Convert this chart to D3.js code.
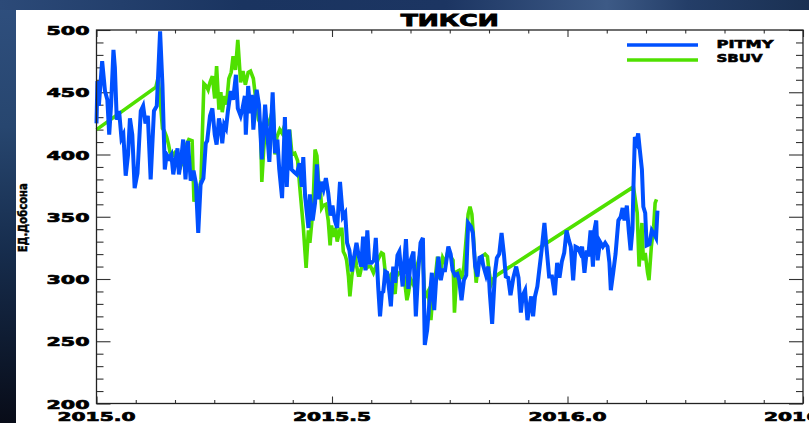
<!DOCTYPE html>
<html><head><meta charset="utf-8">
<script src="https://cdn.jsdelivr.net/npm/d3@7"></script>
<style>html,body{margin:0;padding:0;background:#000;overflow:hidden}</style>
</head><body>
<svg id="c" width="809" height="423"></svg>
<script>
const title = "ТИКСИ";
const yLabel = "ЕД.Добсона";
const seriesNames = ["PITMY", "SBUV"];
const xTicks = [2015.0, 2015.5, 2016.0, 2016.5];
const xTickLabels = ["2015.0", "2015.5", "2016.0", "2016.5"];
const yTicks = [200, 250, 300, 350, 400, 450, 500];
const yTickLabels = ["200", "250", "300", "350", "400", "450", "500"];

// PITMY series [decimal year, Dobson units]
const pitmy = [
[2015.000,425],[2015.002,459],[2015.005,439],[2015.012,475],[2015.018,451],[2015.023,444],[2015.027,416],
[2015.031,440],[2015.036,484],[2015.039,470],[2015.043,428],[2015.048,435],[2015.053,413],[2015.057,416],
[2015.062,383],[2015.067,400],[2015.071,429],[2015.076,416],[2015.081,373],[2015.087,385],[2015.094,435],
[2015.099,439],[2015.104,425],[2015.109,431],[2015.115,380],[2015.122,435],[2015.128,439],[2015.135,499],
[2015.140,456],[2015.145,388],[2015.149,400],[2015.154,397],[2015.159,400],[2015.163,384],[2015.168,396],
[2015.172,405],[2015.175,384],[2015.180,397],[2015.184,412],[2015.189,380],[2015.194,411],[2015.200,379],
[2015.206,387],[2015.211,377],[2015.216,337],[2015.221,376],[2015.227,381],[2015.232,409],[2015.235,411],
[2015.241,431],[2015.246,437],[2015.251,416],[2015.255,408],[2015.260,429],[2015.264,421],[2015.267,409],
[2015.271,424],[2015.275,421],[2015.279,435],[2015.285,451],[2015.290,444],[2015.296,464],[2015.300,437],
[2015.306,431],[2015.310,437],[2015.315,447],[2015.317,416],[2015.322,455],[2015.327,433],[2015.330,448],
[2015.333,420],[2015.340,452],[2015.345,440],[2015.351,396],[2015.358,440],[2015.367,394],[2015.374,450],
[2015.379,401],[2015.384,412],[2015.388,388],[2015.394,365],[2015.400,430],[2015.404,374],[2015.409,420],
[2015.414,388],[2015.419,386],[2015.425,384],[2015.431,393],[2015.436,374],[2015.439,398],[2015.443,366],
[2015.450,341],[2015.453,368],[2015.459,347],[2015.464,361],[2015.468,392],[2015.472,364],[2015.477,378],
[2015.482,372],[2015.487,381],[2015.492,369],[2015.497,351],[2015.501,359],[2015.506,347],[2015.511,341],
[2015.517,378],[2015.523,350],[2015.528,353],[2015.532,329],[2015.537,323],[2015.542,306],[2015.547,318],
[2015.552,329],[2015.557,318],[2015.562,310],[2015.566,334],[2015.571,307],[2015.575,339],[2015.579,313],
[2015.584,313],[2015.589,315],[2015.593,333],[2015.598,294],[2015.602,270],[2015.606,289],[2015.609,290],
[2015.613,306],[2015.617,305],[2015.622,289],[2015.625,278],[2015.630,310],[2015.634,297],[2015.639,319],
[2015.643,322],[2015.650,294],[2015.657,332],[2015.662,292],[2015.667,315],[2015.673,322],[2015.678,270],
[2015.683,306],[2015.688,329],[2015.693,333],[2015.697,247],[2015.702,259],[2015.707,282],[2015.712,305],
[2015.717,275],[2015.721,299],[2015.726,318],[2015.731,299],[2015.735,307],[2015.740,307],[2015.747,326],
[2015.752,320],[2015.756,307],[2015.761,303],[2015.766,304],[2015.770,299],[2015.775,283],[2015.780,299],
[2015.785,303],[2015.789,345],[2015.795,342],[2015.799,337],[2015.804,310],[2015.809,302],[2015.813,317],
[2015.818,318],[2015.821,311],[2015.827,303],[2015.832,310],[2015.835,289],[2015.840,264],[2015.846,305],
[2015.850,317],[2015.855,320],[2015.860,337],[2015.865,320],[2015.869,302],[2015.874,301],[2015.879,287],
[2015.885,301],[2015.891,310],[2015.896,301],[2015.901,273],[2015.905,287],[2015.910,291],[2015.915,267],
[2015.919,277],[2015.923,286],[2015.927,270],[2015.931,286],[2015.936,294],[2015.940,307],[2015.945,323],
[2015.951,345],[2015.956,323],[2015.961,302],[2015.967,302],[2015.973,287],[2015.978,313],[2015.983,301],
[2015.988,314],[2015.993,321],[2015.998,339],[2016.003,331],[2016.007,326],[2016.012,299],[2016.017,326],
[2016.022,325],[2016.027,321],[2016.031,326],[2016.036,305],[2016.041,323],[2016.044,318],[2016.049,339],
[2016.054,310],[2016.057,339],[2016.061,347],[2016.064,315],[2016.069,330],[2016.075,326],[2016.080,329],
[2016.085,326],[2016.089,313],[2016.092,291],[2016.097,305],[2016.102,320],[2016.108,347],[2016.113,350],
[2016.117,357],[2016.121,347],[2016.126,359],[2016.130,339],[2016.134,323],[2016.138,340],[2016.140,374],
[2016.143,414],[2016.147,410],[2016.150,417],[2016.154,402],[2016.158,388],[2016.161,358],[2016.165,353],
[2016.168,327],[2016.174,328],[2016.179,339],[2016.184,336],[2016.188,333],[2016.191,355]
];

// SBUV series [decimal year, Dobson units]
const sbuv = [
[2015.000,420],[2015.126,454],[2015.131,462],[2015.136,440],[2015.140,421],[2015.144,419],[2015.149,414],
[2015.153,408],[2015.156,402],[2015.160,399],[2015.165,401],[2015.169,396],[2015.173,399],[2015.177,388],
[2015.182,396],[2015.186,391],[2015.191,408],[2015.196,412],[2015.203,411],[2015.207,362],[2015.211,376],
[2015.217,366],[2015.222,380],[2015.225,420],[2015.228,457],[2015.233,455],[2015.237,452],[2015.241,458],
[2015.246,463],[2015.251,445],[2015.255,471],[2015.260,436],[2015.264,450],[2015.267,434],[2015.272,447],
[2015.276,440],[2015.281,461],[2015.286,466],[2015.290,479],[2015.295,468],[2015.300,492],[2015.306,458],
[2015.311,467],[2015.316,456],[2015.322,466],[2015.327,467],[2015.333,461],[2015.338,445],[2015.344,428],
[2015.348,425],[2015.351,378],[2015.355,404],[2015.360,427],[2015.365,425],[2015.370,430],[2015.375,438],
[2015.379,400],[2015.383,414],[2015.389,420],[2015.394,417],[2015.399,423],[2015.404,410],[2015.410,420],
[2015.415,400],[2015.421,401],[2015.427,395],[2015.432,372],[2015.436,355],[2015.439,342],[2015.445,309],
[2015.450,339],[2015.453,329],[2015.457,345],[2015.460,361],[2015.464,404],[2015.468,399],[2015.471,380],
[2015.475,373],[2015.478,357],[2015.481,359],[2015.487,360],[2015.492,347],[2015.496,327],[2015.499,343],
[2015.503,334],[2015.508,341],[2015.511,330],[2015.517,340],[2015.521,340],[2015.524,322],[2015.528,319],
[2015.531,315],[2015.535,302],[2015.538,286],[2015.542,302],[2015.545,310],[2015.549,320],[2015.552,311],
[2015.556,303],[2015.559,303],[2015.563,310],[2015.570,310],[2015.574,309],[2015.577,310],[2015.582,310],
[2015.588,305],[2015.593,310],[2015.598,316],[2015.605,321],[2015.609,320],[2015.614,302],[2015.620,300],
[2015.623,302],[2015.629,293],[2015.634,288],[2015.637,302],[2015.643,305],[2015.648,304],[2015.653,302],
[2015.659,283],[2015.662,288],[2015.667,300],[2015.672,296],[2015.676,300],[2015.681,311],[2015.687,320],
[2015.692,322],[2015.697,285],[2015.704,290],[2015.710,267],[2015.714,287],[2015.719,300],[2015.724,318],
[2015.729,300],[2015.735,317],[2015.740,313],[2015.746,322],[2015.752,318],[2015.757,315],[2015.760,273],
[2015.765,306],[2015.770,307],[2015.775,300],[2015.780,310],[2015.786,338],[2015.789,352],[2015.793,358],
[2015.797,352],[2015.800,336],[2015.806,297],[2015.811,312],[2015.818,318],[2015.825,320],[2015.830,318],
[2015.833,307],[2015.838,296],[2015.842,300],[2015.850,303],[2016.140,374],[2016.148,353],[2016.152,310],
[2016.158,345],[2016.161,315],[2016.165,321],[2016.170,305],[2016.173,299],[2016.178,326],[2016.183,342],
[2016.186,361],[2016.189,364]
];

const colors = {pitmy: "#0050ff", sbuv: "#4fe000"};
const W = 809, H = 423;
const svg = d3.select("#c");
const defs = svg.append("defs");

// background (dark space-like image imitation)
const gl = defs.append("linearGradient").attr("id","gl").attr("x1",0).attr("y1",0).attr("x2",0).attr("y2",1);
[[0,"#2f4f7e"],[0.3,"#27466f"],[0.6,"#162c4c"],[1,"#080c18"]].forEach(s=>gl.append("stop").attr("offset",s[0]).attr("stop-color",s[1]));
const gt = defs.append("linearGradient").attr("id","gt").attr("x1",0).attr("y1",0).attr("x2",1).attr("y2",0);
[[0,"#2c4a78"],[0.3,"#1a3460"],[0.55,"#1c3562"],[0.75,"#3d5a86"],[0.85,"#243e68"],[1,"#1a3052"]].forEach(s=>gt.append("stop").attr("offset",s[0]).attr("stop-color",s[1]));
svg.append("rect").attr("width",W).attr("height",H).attr("fill","url(#gl)");
svg.append("rect").attr("x",0).attr("y",0).attr("width",W).attr("height",10).attr("fill","url(#gt)");
svg.append("rect").attr("x",16).attr("y",10).attr("width",W-16).attr("height",H-10).attr("fill","#fff");

const x = d3.scaleLinear().domain([2015.0, 2016.5]).range([96.5, 803]);
const y = d3.scaleLinear().domain([200, 500]).range([403.5, 30]);
const font = "'DejaVu Sans', sans-serif";

// minor ticks
const xMinor = d3.range(0, 19).map(i => 2015 + i / 12).filter(v => Math.abs(v*2 - Math.round(v*2)) > 1e-6);
const yMinor = d3.range(200, 501, 10).filter(v => v % 50 !== 0);

function styleAxis(g){ g.select(".domain").remove(); g.selectAll("line").attr("stroke","#333").attr("stroke-width",1.1); }

svg.append("g").attr("transform",`translate(0,${y(200)})`)
  .call(d3.axisBottom(x).tickValues(xTicks).tickSize(-7).tickFormat("")).call(styleAxis);
svg.append("g").attr("transform",`translate(0,${y(200)})`)
  .call(d3.axisBottom(x).tickValues(xMinor).tickSize(-3.5).tickFormat("")).call(styleAxis);
svg.append("g").attr("transform",`translate(0,${y(500)})`)
  .call(d3.axisTop(x).tickValues(xTicks).tickSize(-7).tickFormat("")).call(styleAxis);
svg.append("g").attr("transform",`translate(0,${y(500)})`)
  .call(d3.axisTop(x).tickValues(xMinor).tickSize(-3.5).tickFormat("")).call(styleAxis);
svg.append("g").attr("transform",`translate(${x(2015)},0)`)
  .call(d3.axisLeft(y).tickValues(yTicks).tickSize(-14).tickFormat("")).call(styleAxis);
svg.append("g").attr("transform",`translate(${x(2015)},0)`)
  .call(d3.axisLeft(y).tickValues(yMinor).tickSize(-7).tickFormat("")).call(styleAxis);
svg.append("g").attr("transform",`translate(${x(2016.5)},0)`)
  .call(d3.axisRight(y).tickValues(yTicks).tickSize(-14).tickFormat("")).call(styleAxis);
svg.append("g").attr("transform",`translate(${x(2016.5)},0)`)
  .call(d3.axisRight(y).tickValues(yMinor).tickSize(-7).tickFormat("")).call(styleAxis);

// data lines
const line = d3.line().x(d => x(d[0])).y(d => y(d[1]));
svg.append("path").datum(sbuv).attr("d", line).attr("fill","none")
  .attr("stroke", colors.sbuv).attr("stroke-width", 3.6).attr("stroke-linejoin","miter");
svg.append("path").datum(pitmy).attr("d", line).attr("fill","none")
  .attr("stroke", colors.pitmy).attr("stroke-width", 4).attr("stroke-linejoin","miter");

// frame
svg.append("rect").attr("x", x(2015)).attr("y", y(500)).attr("width", x(2016.5)-x(2015)).attr("height", y(200)-y(500))
  .attr("fill","none").attr("stroke","#222").attr("stroke-width",1.3);

function heavy(sel, sw){ return sel.attr("font-family", font).attr("font-weight","bold").attr("fill","#000")
  .attr("stroke","#000").attr("stroke-width", sw).attr("lengthAdjust","spacingAndGlyphs"); }

// y tick labels
svg.append("g").selectAll("text").data(yTicks).join("text")
  .attr("x", 89.5).attr("y", d => y(d) + 5).attr("text-anchor","end")
  .attr("font-size",13).attr("textLength",43).call(heavy, 0.7)
  .text((d,i) => yTickLabels[i]);

// x tick labels
svg.append("g").selectAll("text").data(xTicks).join("text")
  .attr("x", d => x(d)).attr("y", 421.3).attr("text-anchor","middle")
  .attr("font-size",12.5).attr("textLength",78).call(heavy, 0.7)
  .text((d,i) => xTickLabels[i]);

// title
svg.append("text").attr("x", (x(2015)+x(2016.5))/2).attr("y", 25.5).attr("text-anchor","middle")
  .attr("font-size",16.5).attr("textLength",98).call(heavy, 0.9).text(title);

// y label
svg.append("text").attr("transform", `translate(27,${(y(200)+y(500))/2 + 1}) rotate(-90)`)
  .attr("text-anchor","middle").attr("font-size",13)
  .attr("textLength",69).call(heavy, 0.5).text(yLabel);

// legend
const leg = [{name: seriesNames[0], color: colors.pitmy, y: 45, w: 57, ty: 47.5},
             {name: seriesNames[1], color: colors.sbuv, y: 60, w: 46, ty: 62}];
leg.forEach(l => {
  svg.append("line").attr("x1",627).attr("x2",698).attr("y1",l.y).attr("y2",l.y)
    .attr("stroke", l.color).attr("stroke-width", 3.6);
  svg.append("text").attr("x",716.5).attr("y",l.ty)
    .attr("font-size",11).attr("textLength",l.w).call(heavy, 0.6).text(l.name);
});
</script>
</body></html>
